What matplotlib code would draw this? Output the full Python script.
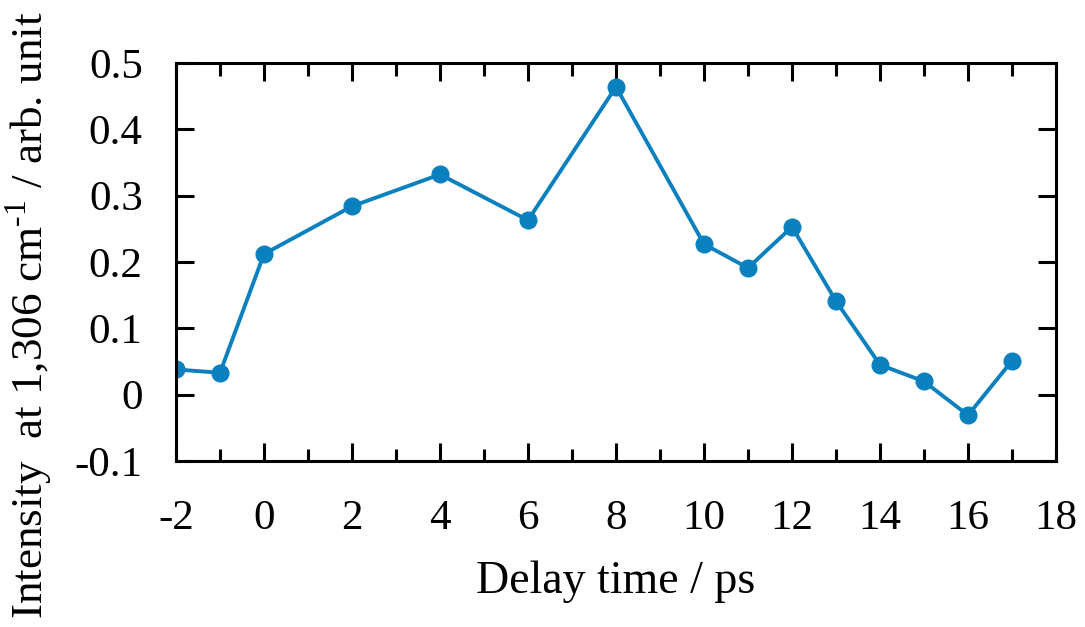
import matplotlib
matplotlib.use("Agg")
import matplotlib.pyplot as plt
from matplotlib.ticker import MultipleLocator

delay = [-2, -1, 0, 2, 4, 6, 8, 10, 11, 12, 13, 14, 15, 16, 17]
intensity = [0.038, 0.033, 0.212, 0.284, 0.332, 0.263, 0.464, 0.227, 0.191,
             0.253, 0.141, 0.045, 0.020, -0.031, 0.051]
xticks = [-2, 0, 2, 4, 6, 8, 10, 12, 14, 16, 18]
yticks = [-0.1, 0, 0.1, 0.2, 0.3, 0.4, 0.5]
yticklabels = ["-0.1", "0", "0.1", "0.2", "0.3", "0.4", "0.5"]

plt.rcParams['font.family'] = ['Liberation Serif', 'DejaVu Serif']
plt.rcParams['mathtext.fontset'] = 'custom'
plt.rcParams['mathtext.rm'] = 'Liberation Serif'
plt.rcParams['axes.unicode_minus'] = False

color = '#0a80bf'
fig = plt.figure(figsize=(10.85, 6.27), dpi=100)
ax = fig.add_axes([176/1085, 1 - 461/627, (1056-176)/1085, (461-63)/627])
ax.plot(delay, intensity, '-o', color=color, lw=2.8, ms=12)
ax.set_xlim(-2, 18)
ax.set_ylim(-0.1, 0.5)
ax.set_xticks(xticks)
ax.xaxis.set_minor_locator(MultipleLocator(1))
ax.set_yticks(yticks)
ax.set_yticklabels(yticklabels)
ax.tick_params(which='both', direction='in', top=True, right=True, width=2.2,
               labelsize=31)
ax.tick_params(axis='x', pad=28)
ax.tick_params(axis='y', pad=24)
ax.tick_params(which='major', length=13)
ax.tick_params(which='minor', length=9)
for s in ax.spines.values():
    s.set_linewidth(2.2)
ax.set_xlabel('Delay time / ps', fontsize=33, labelpad=16)
ax.set_ylabel(r'Intensity  at 1,306 cm$^{\text{-1}}$ / arb. unit', fontsize=32.5, labelpad=14)
ax.yaxis.label.set_y(0.367)
fig.savefig('out.png', dpi=100)
